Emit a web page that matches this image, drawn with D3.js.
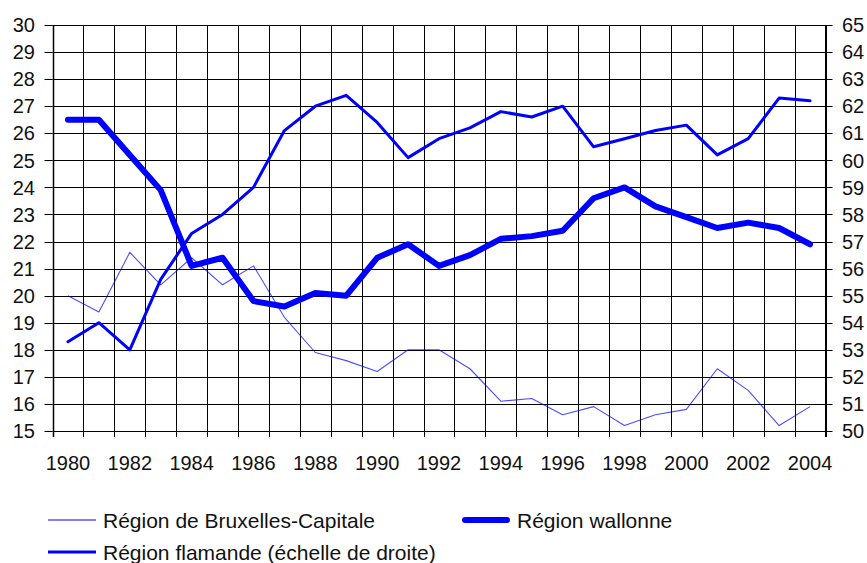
<!DOCTYPE html>
<html><head><meta charset="utf-8">
<script src="https://cdn.jsdelivr.net/npm/d3@7"></script>
<style>
body{margin:0;background:#fff;}
svg{display:block;font-family:"Liberation Sans",Arial,Helvetica,sans-serif;}
</style></head>
<body>
<svg id="chart" width="867" height="563"></svg>
<script>
const years = d3.range(1980, 2005);
const bruxelles = [20.0,19.4,21.6,20.4,21.4,20.4,21.1,19.2,17.9,17.6,17.2,18.0,18.0,17.3,16.1,16.2,15.6,15.9,15.2,15.6,15.8,17.3,16.5,15.2,15.9];
const wallonne  = [26.5,26.5,25.2,23.9,21.1,21.4,19.8,19.6,20.1,20.0,21.4,21.9,21.1,21.5,22.1,22.2,22.4,23.6,24.0,23.3,22.9,22.5,22.7,22.5,21.9];
const flamande  = [53.3,54.0,53.0,55.6,57.3,58.0,59.0,61.1,62.0,62.4,61.4,60.1,60.8,61.2,61.8,61.6,62.0,60.5,60.8,61.1,61.3,60.2,60.8,62.3,62.2];
const leftTicks = d3.range(15, 31);
const rightTicks = d3.range(50, 66);
const yearLabels = years.filter(y => y % 2 === 0);
const legendNames = ["Région de Bruxelles-Capitale","Région wallonne","Région flamande (échelle de droite)"];

const svg = d3.select("#chart");
const L = 52.5, R = 825.5, T = 25, B = 431;
const x = d3.scaleBand().domain(years).range([L, R]).padding(0);
const yL = d3.scaleLinear().domain([15, 30]).range([B, T]);
const yR = d3.scaleLinear().domain([50, 65]).range([B, T]);
const xc = d => x(d) + x.bandwidth()/2;

// horizontal grid
svg.append("g").selectAll("line").data(leftTicks).join("line")
  .attr("x1", L).attr("x2", R).attr("y1", d => Math.round(yL(d))+0.5).attr("y2", d => Math.round(yL(d))+0.5)
  .attr("stroke", "#000").attr("stroke-width", 1);
// vertical grid
const bounds = years.map(y => x(y)).concat([R]);
svg.append("g").selectAll("line").data(bounds).join("line")
  .attr("x1", d => Math.round(d)+0.5).attr("x2", d => Math.round(d)+0.5).attr("y1", T).attr("y2", B+6)
  .attr("stroke", "#000").attr("stroke-width", 1);
// left ticks
svg.append("g").selectAll("line").data(leftTicks).join("line")
  .attr("x1", L-8).attr("x2", L).attr("y1", d => Math.round(yL(d))+0.5).attr("y2", d => Math.round(yL(d))+0.5)
  .attr("stroke", "#000");
svg.append("line").attr("x1", Math.round(L)+0.5).attr("x2", Math.round(L)+0.5).attr("y1", T).attr("y2", B+6).attr("stroke","#000").attr("stroke-width",1.5);
// right axis
svg.append("g").selectAll("line").data(rightTicks).join("line")
  .attr("x1", R).attr("x2", R+7).attr("y1", d => Math.round(yR(d))+0.5).attr("y2", d => Math.round(yR(d))+0.5)
  .attr("stroke", "#000");
svg.append("line").attr("x1", R+0.5).attr("x2", R+0.5).attr("y1", T).attr("y2", B+6).attr("stroke","#000").attr("stroke-width",2);

// tick labels
svg.append("g").selectAll("text").data(leftTicks).join("text")
  .attr("x", 35).attr("y", d => yL(d)).attr("dy", "0.36em").attr("text-anchor", "end")
  .attr("font-size", 20).attr("fill", "#111").text(d => d);
svg.append("g").selectAll("text").data(rightTicks).join("text")
  .attr("x", 842).attr("y", d => yR(d)).attr("dy", "0.36em").attr("text-anchor", "start")
  .attr("font-size", 20).attr("fill", "#111").text(d => d);
svg.append("g").selectAll("text").data(yearLabels).join("text")
  .attr("x", d => xc(d)).attr("y", 470).attr("text-anchor", "middle")
  .attr("font-size", 20).attr("fill", "#111").text(d => d);

// lines
const lineL = d3.line().x((d,i) => xc(years[i])).y(d => yL(d));
const lineR = d3.line().x((d,i) => xc(years[i])).y(d => yR(d));
svg.append("path").datum(bruxelles).attr("d", lineL).attr("fill","none")
  .attr("stroke","#0000ff").attr("stroke-opacity",0.7).attr("stroke-width",1.1).attr("stroke-linejoin","round");
svg.append("path").datum(flamande).attr("d", lineR).attr("fill","none")
  .attr("stroke","#0000ff").attr("stroke-width",3).attr("stroke-linejoin","round").attr("stroke-linecap","round");
svg.append("path").datum(wallonne).attr("d", lineL).attr("fill","none")
  .attr("stroke","#0000ff").attr("stroke-width",6).attr("stroke-linejoin","round").attr("stroke-linecap","round");

// legend
const leg = [
  {name: legendNames[0], x: 48, y: 520, w: 1.2, cap: "butt"},
  {name: legendNames[1], x: 462, y: 520, w: 6, cap: "round"},
  {name: legendNames[2], x: 48, y: 552, w: 3, cap: "butt"}
];
const lg = svg.append("g").selectAll("g").data(leg).join("g");
lg.append("line").attr("x1", d => d.x + (d.cap==="round"?3:0)).attr("x2", d => d.x + 48 - (d.cap==="round"?3:0))
  .attr("y1", d => d.y).attr("y2", d => d.y).attr("stroke","#0000ff")
  .attr("stroke-width", d => d.w).attr("stroke-linecap", d => d.cap);
lg.append("text").attr("x", d => d.x + 55).attr("y", d => d.y).attr("dy","0.36em")
  .attr("font-size", 21).attr("fill","#111").text(d => d.name);
</script>
</body></html>
